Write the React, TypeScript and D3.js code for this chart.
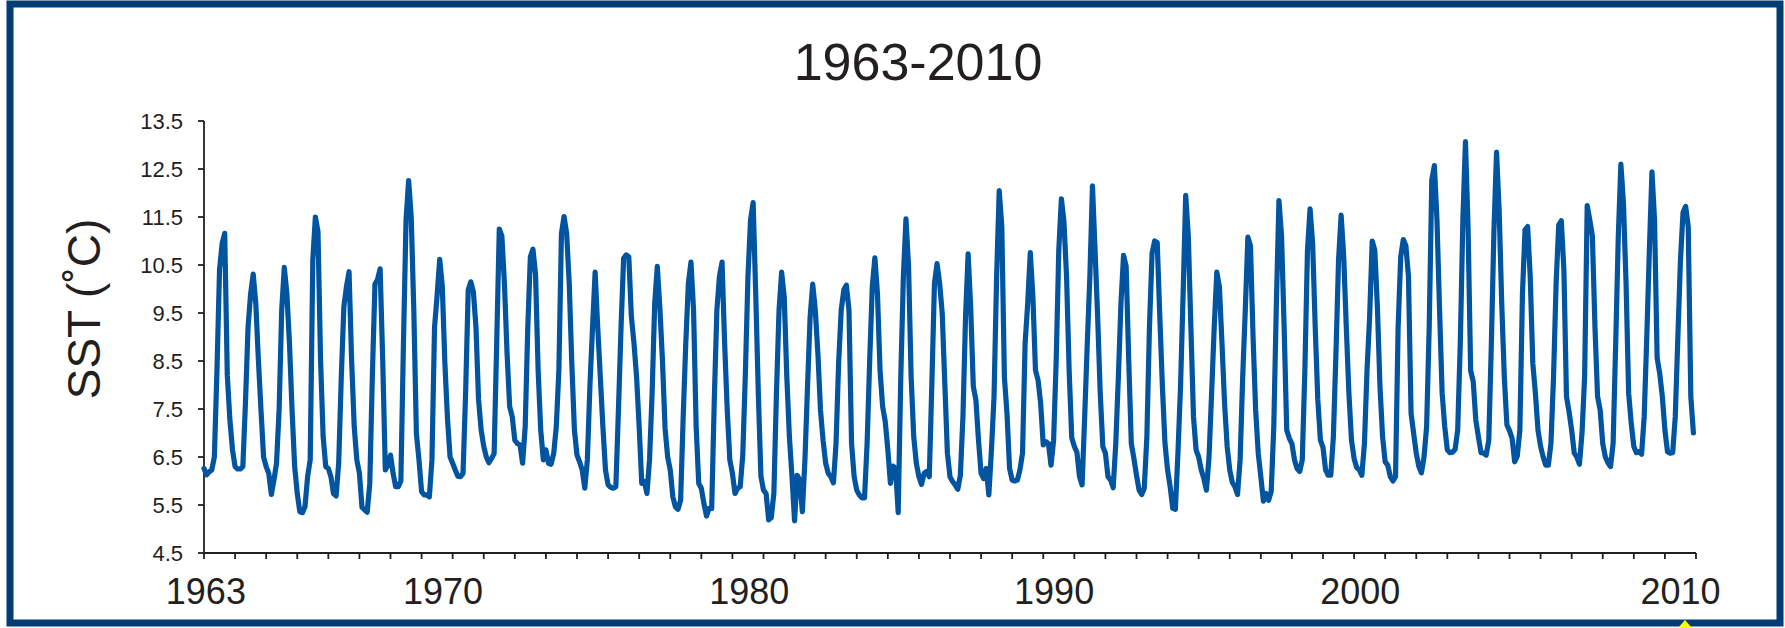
import React from 'react';
import * as d3 from 'd3';

// monthly SST (°C), Jan..Dec per row
const sst1960s = [
  6.26, 6.13, 6.19, 6.23, 6.5, 8.3, 10.4, 10.95, 11.16, 8.2, 7.27, 6.65,
  6.3, 6.25, 6.25, 6.3, 7.62, 9.2, 9.9, 10.31, 9.7, 8.52, 7.48, 6.5,
  6.3, 6.16, 5.72, 6.02, 6.37, 7.48, 9.56, 10.45, 9.9, 8.87, 7.48, 6.3,
  5.74, 5.36, 5.34, 5.47, 6.09, 6.44, 10.6, 11.5, 11.2, 8.52, 6.92, 6.3,
  6.26, 6.09, 5.74, 5.69, 6.37, 8.17, 9.63, 10.05, 10.36, 8.5, 7.13, 6.44,
  6.16, 5.45, 5.4, 5.35, 5.95, 8.2, 10.1, 10.2, 10.42, 8.5, 6.23, 6.33,
  6.54, 6.16, 5.88, 5.88, 6.0, 8.87, 11.44, 12.26, 11.5, 9.56, 6.99, 6.44,
];
const sst1970s = [
  5.78, 5.71, 5.71, 5.67, 6.44, 9.2, 9.87, 10.62, 10.05, 8.45, 7.3, 6.5,
  6.37, 6.23, 6.1, 6.09, 6.16, 7.83, 9.98, 10.15, 9.94, 9.2, 7.69, 7.06,
  6.72, 6.5, 6.38, 6.47, 6.57, 8.87, 11.25, 11.1, 10.1, 8.66, 7.55, 7.34,
  6.85, 6.78, 6.75, 6.37, 7.13, 9.2, 10.67, 10.83, 10.3, 8.3, 7.06, 6.44,
  6.65, 6.37, 6.35, 6.57, 7.13, 8.3, 11.16, 11.51, 11.16, 10.12, 8.45, 7.06,
  6.54, 6.4, 6.23, 5.85, 6.44, 8.0, 9.2, 10.35, 9.2, 8.17, 7.13, 6.23,
  5.92, 5.87, 5.85, 5.88, 7.48, 9.2, 10.64, 10.71, 10.67, 9.42, 8.87, 8.17,
  7.13, 5.95, 5.99, 5.74, 6.44, 7.83, 9.7, 10.47, 9.6, 8.5, 7.1, 6.5,
  6.23, 5.67, 5.46, 5.41, 5.6, 7.34, 8.87, 10.12, 10.56, 9.56, 7.13, 5.95,
  5.85, 5.53, 5.27, 5.43, 5.43, 7.69, 9.56, 10.26, 10.56, 8.87, 7.48, 6.44,
];
const sst1980s = [
  6.16, 5.74, 5.85, 5.88, 6.54, 8.24, 10.26, 11.44, 11.8, 9.9, 7.83, 6.1,
  5.81, 5.74, 5.19, 5.24, 5.74, 7.83, 9.56, 10.35, 9.84, 8.17, 6.92, 6.09,
  5.17, 6.12, 6.02, 5.36, 6.44, 7.97, 9.42, 10.1, 9.56, 8.66, 7.48, 6.85,
  6.37, 6.16, 6.09, 5.96, 6.78, 8.45, 9.56, 9.98, 10.08, 9.56, 6.78, 6.09,
  5.81, 5.71, 5.65, 5.65, 6.78, 8.52, 10.05, 10.65, 9.9, 8.3, 7.55, 7.24,
  6.65, 5.95, 6.31, 6.26, 5.34, 8.17, 10.26, 11.46, 10.47, 8.17, 6.92, 6.37,
  6.09, 5.93, 6.16, 6.2, 6.09, 8.03, 10.12, 10.53, 10.12, 9.49, 8.03, 6.58,
  6.09, 5.99, 5.92, 5.83, 6.12, 7.34, 9.42, 10.73, 9.6, 7.97, 7.69, 6.85,
  6.16, 6.05, 6.26, 5.71, 6.65, 7.76, 10.26, 12.05, 11.3, 8.17, 7.41, 6.26,
  6.02, 6.0, 6.02, 6.23, 6.58, 8.87, 9.7, 10.76, 9.84, 8.31, 8.1, 7.62,
];
const sst1990s = [
  6.75, 6.82, 6.78, 6.33, 6.85, 8.52, 10.81, 11.88, 11.4, 10.26, 8.3, 6.9,
  6.72, 6.6, 6.09, 5.92, 7.34, 8.87, 10.26, 12.15, 10.81, 9.42, 7.83, 6.72,
  6.58, 6.09, 6.02, 5.86, 6.78, 8.17, 9.7, 10.7, 10.47, 8.52, 6.78, 6.47,
  6.12, 5.81, 5.72, 5.85, 6.92, 9.2, 10.74, 11.0, 10.97, 9.42, 7.97, 6.78,
  6.23, 5.88, 5.43, 5.41, 6.58, 7.97, 9.9, 11.95, 11.1, 9.2, 7.34, 6.65,
  6.5, 6.23, 6.05, 5.81, 6.5, 7.83, 9.2, 10.35, 10.05, 8.87, 7.62, 6.72,
  6.23, 5.97, 5.88, 5.72, 6.44, 8.17, 9.56, 11.08, 10.9, 9.0, 7.48, 6.58,
  6.09, 5.58, 5.74, 5.6, 5.78, 7.13, 9.7, 11.84, 11.1, 9.2, 7.06, 6.89,
  6.78, 6.44, 6.26, 6.2, 6.44, 8.31, 10.8, 11.67, 10.95, 9.2, 7.69, 6.85,
  6.7, 6.23, 6.12, 6.12, 6.92, 8.66, 10.6, 11.54, 10.67, 9.2, 7.83, 6.85,
];
const sst2000s = [
  6.47, 6.28, 6.23, 6.12, 6.78, 8.31, 9.42, 11.0, 10.81, 9.63, 7.97, 6.92,
  6.4, 6.33, 6.09, 6.0, 6.09, 9.2, 10.67, 11.03, 10.9, 10.26, 7.41, 6.99,
  6.58, 6.3, 6.17, 6.5, 7.13, 9.2, 12.27, 12.57, 11.44, 9.56, 7.83, 7.13,
  6.65, 6.59, 6.6, 6.66, 7.06, 8.87, 11.44, 13.07, 11.3, 8.3, 8.07, 7.27,
  6.92, 6.59, 6.58, 6.54, 6.85, 8.87, 11.23, 12.85, 11.65, 9.7, 8.17, 7.17,
  7.05, 6.89, 6.4, 6.52, 7.06, 9.9, 11.23, 11.3, 10.26, 8.45, 7.83, 7.06,
  6.72, 6.5, 6.33, 6.33, 6.78, 8.17, 10.12, 11.33, 11.42, 10.4, 7.76, 7.44,
  7.06, 6.58, 6.5, 6.35, 7.0, 8.17, 11.74, 11.44, 11.1, 9.2, 7.76, 7.48,
  6.78, 6.5, 6.38, 6.3, 6.78, 8.87, 11.09, 12.6, 11.78, 10.12, 7.83, 7.2,
  6.72, 6.59, 6.61, 6.56, 7.34, 9.0, 10.81, 12.44, 11.44, 8.56, 8.24, 7.76,
];
const sst2010 = [7.06, 6.61, 6.58, 6.59, 7.34, 9.0, 10.6, 11.6, 11.72, 11.3, 7.76, 7.0];

const yTicks = [4.5, 5.5, 6.5, 7.5, 8.5, 9.5, 10.5, 11.5, 12.5, 13.5];
// year labels and where they sit, in years from Jan 1963
const yearLabels = ['1963', '1970', '1980', '1990', '2000', '2010'];
const yearLabelAt = [0.06, 7.69, 17.54, 27.35, 37.2, 47.5];
const chartTitle = '1963-2010';
const yTitle = 'SST (\u02DAC)';

const FONT = '"Liberation Sans", Arial, Helvetica, sans-serif';
const INK = '#231f20';

export default function App() {
  const width = 1785;
  const height = 628;
  const margin = { top: 121, right: 89, bottom: 75, left: 204 };

  const values = [...sst1960s, ...sst1970s, ...sst1980s, ...sst1990s, ...sst2000s, ...sst2010];
  const nMonths = values.length;

  const x = d3.scaleLinear().domain([0, nMonths]).range([margin.left, width - margin.right]);
  const y = d3.scaleLinear().domain([4.5, 13.5]).range([height - margin.bottom, margin.top]);

  const line = d3.line<number>()
    .x((_, i) => x(i))
    .y(d => y(d));

  const monthTicks = d3.range(0, nMonths + 1, 12);
  const y0 = y(4.5);

  return (
    <svg width={width} height={height} style={{ position: 'absolute', left: 0, top: 0, background: '#fff' }}
      fontFamily={FONT}>
      <rect x={0} y={0} width={width} height={height} fill="#fff" />
      <rect x={10} y={4} width={1770} height={619} fill="none" stroke="#013c74" strokeWidth={7} />

      <text x={918} y={80} textAnchor="middle" fontSize={52} fill={INK}>{chartTitle}</text>

      <text transform={`translate(100, 309) rotate(-90)`} textAnchor="middle" fontSize={46} fill={INK}>{yTitle}</text>

      {/* axes */}
      <g stroke={INK} strokeWidth={1.8}>
        <line x1={x(0)} x2={x(0)} y1={y(13.5)} y2={y0} />
        {yTicks.map(t => (
          <line key={t} x1={x(0) - 6} x2={x(0)} y1={y(t)} y2={y(t)} />
        ))}
        <line x1={x(0)} x2={x(nMonths)} y1={y0} y2={y0} />
        {monthTicks.map(m => (
          <line key={m} x1={x(m)} x2={x(m)} y1={y0} y2={y0 + 6} />
        ))}
      </g>
      {yTicks.map(t => (
        <text key={t} x={183} y={y(t)} dy="0.35em" textAnchor="end" fontSize={22} fill={INK}>{t.toFixed(1)}</text>
      ))}
      {yearLabels.map((lab, i) => (
        <text key={lab} x={x(yearLabelAt[i] * 12)} y={604} textAnchor="middle" fontSize={36} fill={INK}>{lab}</text>
      ))}

      <path d={line(values) || ''} fill="none" stroke="#0054a0" strokeWidth={5.2}
        strokeLinejoin="round" strokeLinecap="round" />

      <polygon points="1678,628 1692,628 1685,620" fill="#ffff00" />
    </svg>
  );
}
